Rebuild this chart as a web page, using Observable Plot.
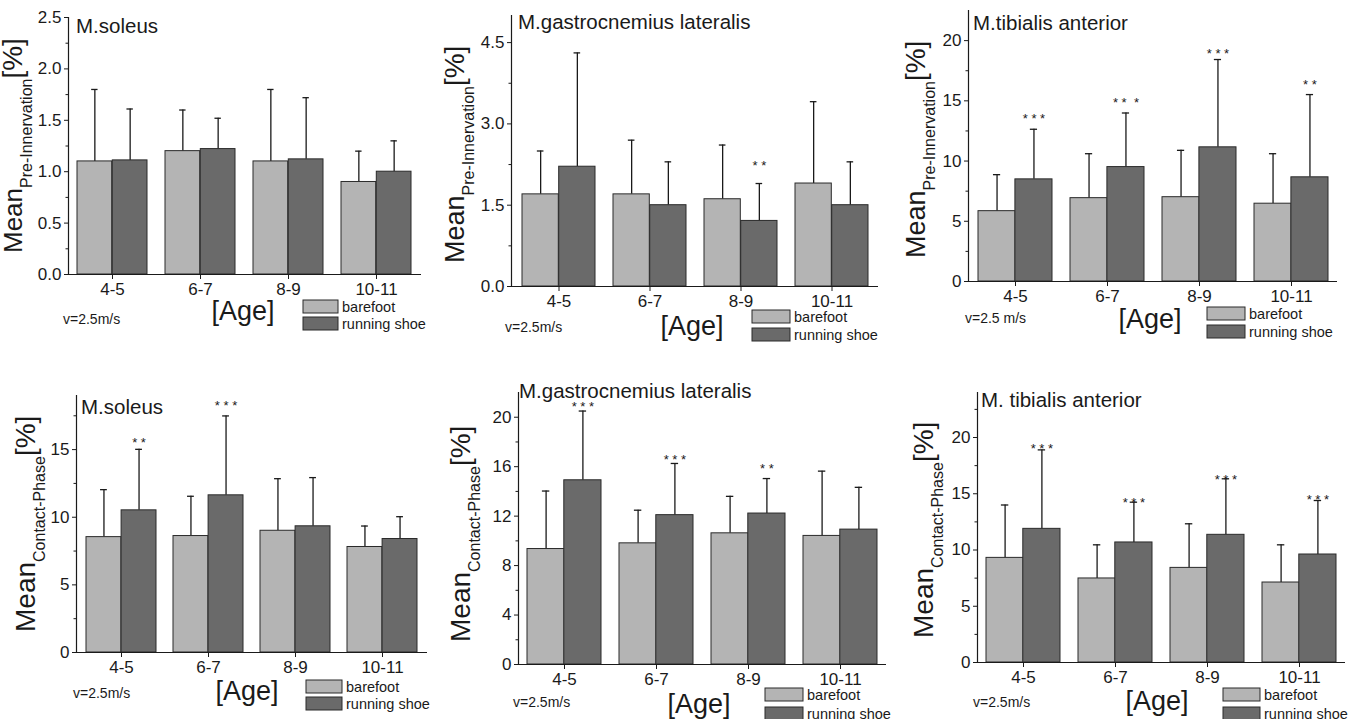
<!DOCTYPE html>
<html><head><meta charset="utf-8">
<script src="https://cdn.jsdelivr.net/npm/d3@7"></script>
<script src="https://cdn.jsdelivr.net/npm/@observablehq/plot@0.6"></script>
<style>
body{margin:0;background:#fff;}
#root{position:relative;width:1359px;height:719px;overflow:hidden;font-family:"Liberation Sans",Arial,sans-serif;}
.panel{position:absolute;}
.panel svg{overflow:visible;max-width:none;}
</style></head><body><div id="root"></div>
<script>
// ---------- data ----------
const ages = ["4-5", "6-7", "8-9", "10-11"];
const seriesNames = ["barefoot", "running shoe"];

// Pre-innervation, M.soleus
const solPreBare = [1.10, 1.20, 1.10, 0.90];
const solPreBareHi = [1.80, 1.60, 1.80, 1.20];
const solPreRun = [1.11, 1.22, 1.12, 1.00];
const solPreRunHi = [1.61, 1.52, 1.72, 1.30];
const solPreStars = [];

// Pre-innervation, M.gastrocnemius lateralis
const gasPreBare = [1.70, 1.70, 1.61, 1.90];
const gasPreBareHi = [2.50, 2.70, 2.61, 3.41];
const gasPreRun = [2.21, 1.50, 1.21, 1.50];
const gasPreRunHi = [4.31, 2.30, 1.90, 2.30];
const gasPreStars = [{age: "8-9", y: 2.29, s: "* *"}];

// Pre-innervation, M.tibialis anterior
const tibPreBare = [5.84, 6.92, 7.00, 6.46];
const tibPreBareHi = [8.87, 10.61, 10.89, 10.61];
const tibPreRun = [8.48, 9.50, 11.14, 8.65];
const tibPreRunHi = [12.64, 13.99, 18.43, 15.52];
const tibPreStars = [
  {age: "4-5", y: 13.72, s: "* * *"}, {age: "6-7", y: 15.05, s: "* *  *"},
  {age: "8-9", y: 19.14, s: "* * *"}, {age: "10-11", y: 16.57, s: "* *"}];

// Contact phase, M.soleus
const solConBare = [8.53, 8.61, 9.00, 7.80];
const solConBareHi = [12.04, 11.55, 12.85, 9.35];
const solConRun = [10.51, 11.62, 9.33, 8.39];
const solConRunHi = [15.02, 17.49, 12.93, 10.04];
const solConStars = [{age: "4-5", y: 15.69, s: "* *"}, {age: "6-7", y: 18.48, s: "* * *"}];

// Contact phase, M.gastrocnemius lateralis
const gasConBare = [9.34, 9.80, 10.61, 10.40];
const gasConBareHi = [14.03, 12.48, 13.60, 15.64];
const gasConRun = [14.90, 12.08, 12.21, 10.91];
const gasConRunHi = [20.50, 16.26, 15.04, 14.33];
const gasConStars = [{age: "4-5", y: 21.1, s: "* * *"}, {age: "6-7", y: 16.8, s: "* * *"}, {age: "8-9", y: 16.07, s: "* *"}];

// Contact phase, M.tibialis anterior
const tibConBare = [9.30, 7.47, 8.41, 7.11];
const tibConBareHi = [14.00, 10.46, 12.33, 10.46];
const tibConRun = [11.88, 10.67, 11.35, 9.60];
const tibConRunHi = [18.90, 14.25, 16.33, 14.40];
const tibConStars = [
  {age: "4-5", y: 19.3, s: "* * *"}, {age: "6-7", y: 14.46, s: "* * *"},
  {age: "8-9", y: 16.47, s: "* * *"}, {age: "10-11", y: 14.76, s: "* * *"}];

// tick values
const ticksP1 = [0, 0.5, 1, 1.5, 2, 2.5], minorP1 = [0.25, 0.75, 1.25, 1.75, 2.25];
const ticksP2 = [0, 1.5, 3, 4.5], minorP2 = [0.75, 2.25, 3.75];
const ticksP3 = [0, 5, 10, 15, 20], minorP3 = [2.5, 7.5, 12.5, 17.5];
const ticksP4 = [0, 5, 10, 15], minorP4 = [2.5, 7.5, 12.5, 17.5];
const ticksP5 = [0, 4, 8, 12, 16, 20], minorP5 = [2, 6, 10, 14, 18];
const ticksP6 = [0, 5, 10, 15, 20], minorP6 = [2.5, 7.5, 12.5, 17.5, 22.5];

// ---------- layout ----------
const panels = [
  {bare: solPreBare, bareHi: solPreBareHi, run: solPreRun, runHi: solPreRunHi, stars: solPreStars,
   ticks: ticksP1, minor: minorP1, fmt: d3.format(".1f"), yDomain: [0, 2.5],
   box: {left: 0, top: 0, width: 447, height: 345}, plot: {l: 68, r: 421, t: 17, b: 274},
   title: {text: "M.soleus", x: 76, y: 33}, ylab: {sub: "Pre-Innervation", x: 22, y: 253, size: 26},
   age: {x: 243, y: 320}, v: {text: "v=2.5m/s", x: 63, y: 324},
   leg: {x: 303, y1: 300, y2: 317, tx: 342}},
  {bare: gasPreBare, bareHi: gasPreBareHi, run: gasPreRun, runHi: gasPreRunHi, stars: gasPreStars,
   ticks: ticksP2, minor: minorP2, fmt: d3.format(".1f"), yDomain: [0, 5],
   box: {left: 447, top: 0, width: 453, height: 345}, plot: {l: 511, r: 878, t: 15, b: 286},
   title: {text: "M.gastrocnemius lateralis", x: 518, y: 29}, ylab: {sub: "Pre-Innervation", x: 464, y: 263, size: 27},
   age: {x: 692, y: 335}, v: {text: "v=2.5m/s", x: 505, y: 332},
   leg: {x: 752, y1: 310, y2: 328, tx: 794}},
  {bare: tibPreBare, bareHi: tibPreBareHi, run: tibPreRun, runHi: tibPreRunHi, stars: tibPreStars,
   ticks: ticksP3, minor: minorP3, fmt: d3.format("d"), yDomain: [0, 22.5],
   box: {left: 900, top: 0, width: 459, height: 345}, plot: {l: 968, r: 1337, t: 10, b: 281},
   title: {text: "M.tibialis anterior", x: 973, y: 30}, ylab: {sub: "Pre-Innervation", x: 925, y: 258, size: 27},
   age: {x: 1150, y: 328}, v: {text: "v=2.5 m/s", x: 965, y: 323},
   leg: {x: 1207, y1: 307, y2: 325, tx: 1249}},
  {bare: solConBare, bareHi: solConBareHi, run: solConRun, runHi: solConRunHi, stars: solConStars,
   ticks: ticksP4, minor: minorP4, fmt: d3.format("d"), yDomain: [0, 19],
   box: {left: 0, top: 360, width: 447, height: 359}, plot: {l: 76, r: 427, t: 395, b: 652},
   title: {text: "M.soleus", x: 81, y: 414}, ylab: {sub: "Contact-Phase", x: 35, y: 632, size: 28},
   age: {x: 247, y: 700}, v: {text: "v=2.5m/s", x: 73, y: 698},
   leg: {x: 306, y1: 680, y2: 697, tx: 346}},
  {bare: gasConBare, bareHi: gasConBareHi, run: gasConRun, runHi: gasConRunHi, stars: gasConStars,
   ticks: ticksP5, minor: minorP5, fmt: d3.format("d"), yDomain: [0, 22],
   box: {left: 447, top: 360, width: 453, height: 359}, plot: {l: 518, r: 886, t: 392, b: 664},
   title: {text: "M.gastrocnemius lateralis", x: 519, y: 398}, ylab: {sub: "Contact-Phase", x: 470, y: 642, size: 28},
   age: {x: 699, y: 713}, v: {text: "v=2.5m/s", x: 513, y: 707},
   leg: {x: 765, y1: 688, y2: 707, tx: 807}},
  {bare: tibConBare, bareHi: tibConBareHi, run: tibConRun, runHi: tibConRunHi, stars: tibConStars,
   ticks: ticksP6, minor: minorP6, fmt: d3.format("d"), yDomain: [0, 24],
   box: {left: 900, top: 360, width: 459, height: 359}, plot: {l: 977, r: 1345, t: 392, b: 662},
   title: {text: "M. tibialis anterior", x: 981, y: 407}, ylab: {sub: "Contact-Phase", x: 933, y: 638, size: 28},
   age: {x: 1157, y: 710}, v: {text: "v=2.5m/s", x: 973, y: 707},
   leg: {x: 1223, y1: 688, y2: 707, tx: 1264}}
];

const BARE = "#b4b4b4", RUN = "#6a6a6a", EDGE = "#2a2a2a", INK = "#1a1a1a";
const FONT = "'Liberation Sans', Arial, sans-serif";
const root = document.getElementById("root");

function drawPanel(p) {
  const bare = ages.map((a, i) => ({age: a, series: seriesNames[0], mean: p.bare[i], hi: p.bareHi[i]}));
  const run = ages.map((a, i) => ({age: a, series: seriesNames[1], mean: p.run[i], hi: p.runHi[i]}));
  const ml = p.plot.l - p.box.left, mr = p.box.left + p.box.width - p.plot.r;
  const mt = p.plot.t - p.box.top, mb = p.box.top + p.box.height - p.plot.b;
  const pi = 0.2, po = 0.1;
  const step = (p.plot.r - p.plot.l) / (ages.length - pi + 2 * po);
  const bw = step * (1 - pi), q = bw / 4, capW = 7;

  const svg = Plot.plot({
    width: p.box.width, height: p.box.height,
    marginLeft: ml, marginRight: mr, marginTop: mt, marginBottom: mb,
    x: {domain: ages, paddingInner: pi, paddingOuter: po, label: null},
    y: {domain: p.yDomain, label: null},
    style: {fontFamily: FONT, fontSize: "16px", color: INK, background: "transparent", overflow: "visible"},
    marks: [
      Plot.ruleX(bare, {x: "age", y1: "mean", y2: "hi", dx: -q, stroke: INK, strokeWidth: 1.3}),
      Plot.ruleX(run, {x: "age", y1: "mean", y2: "hi", dx: q, stroke: INK, strokeWidth: 1.3}),
      Plot.tickY(bare, {x: "age", y: "hi", insetLeft: q - capW / 2, insetRight: 3 * q - capW / 2, stroke: INK, strokeWidth: 1.3}),
      Plot.tickY(run, {x: "age", y: "hi", insetLeft: 3 * q - capW / 2, insetRight: q - capW / 2, stroke: INK, strokeWidth: 1.3}),
      Plot.barY(bare, {x: "age", y: "mean", insetRight: bw / 2, fill: BARE, stroke: EDGE, strokeWidth: 1}),
      Plot.barY(run, {x: "age", y: "mean", insetLeft: bw / 2, fill: RUN, stroke: EDGE, strokeWidth: 1}),
      Plot.text(p.stars, {x: "age", y: "y", text: "s", dx: q, dy: 3, fontSize: 13, fill: INK, ariaLabel: "stars"}),
      Plot.axisY({ticks: p.ticks, tickSize: 4, tickPadding: 3, tickFormat: p.fmt, label: null}),
      Plot.axisY({ticks: p.minor, tickSize: 2.5, tickFormat: () => "", label: null}),
      Plot.axisX({tickSize: 5, tickPadding: 3, label: null}),
      Plot.frame({anchor: "left", stroke: INK, strokeWidth: 1.2}),
      Plot.ruleY([0], {stroke: INK, strokeWidth: 1.2})
    ]
  });

  const s = d3.select(svg);
  s.selectAll('g[aria-label*="tick label"]').attr("font-size", null).style("font-size", "17px");
  s.selectAll('g[aria-label*="tick label"] text').style("font-size", "17px");
  s.selectAll('g[aria-label="stars"] text').style("letter-spacing", "2px");
  const ox = p.box.left, oy = p.box.top;
  const g = s.append("g").attr("font-family", FONT).attr("fill", INK).attr("text-anchor", "start");
  g.append("text").attr("x", p.title.x - ox).attr("y", p.title.y - oy).style("font-size", "20.5px").text(p.title.text);

  const yl = g.append("text").attr("transform", `translate(${p.ylab.x - ox},${p.ylab.y - oy}) rotate(-90)`);
  yl.append("tspan").style("font-size", p.ylab.size + "px").text("Mean");
  yl.append("tspan").style("font-size", "16px").attr("dy", 10).text(p.ylab.sub);
  yl.append("tspan").style("font-size", "28px").attr("dy", -10).text("[%]");

  g.append("text").attr("x", p.age.x - ox).attr("y", p.age.y - oy).attr("text-anchor", "middle").style("font-size", "27px").text("[Age]");
  g.append("text").attr("x", p.v.x - ox).attr("y", p.v.y - oy).style("font-size", "14px").text(p.v.text);

  const L = p.leg;
  [[L.y1, BARE, seriesNames[0]], [L.y2, RUN, seriesNames[1]]].forEach(([yy, c, t]) => {
    g.append("rect").attr("x", L.x - ox).attr("y", yy - oy).attr("width", L.tx - 4 - L.x).attr("height", 13)
      .attr("fill", c).attr("stroke", EDGE).attr("stroke-width", 1);
    g.append("text").attr("x", L.tx - ox).attr("y", yy - oy + 12).style("font-size", "14.5px").text(t);
  });

  const div = document.createElement("div");
  div.className = "panel";
  div.style.left = p.box.left + "px";
  div.style.top = p.box.top + "px";
  div.style.width = p.box.width + "px";
  div.style.height = p.box.height + "px";
  div.appendChild(svg);
  root.appendChild(div);
}

panels.forEach(drawPanel);
</script>
</body></html>
